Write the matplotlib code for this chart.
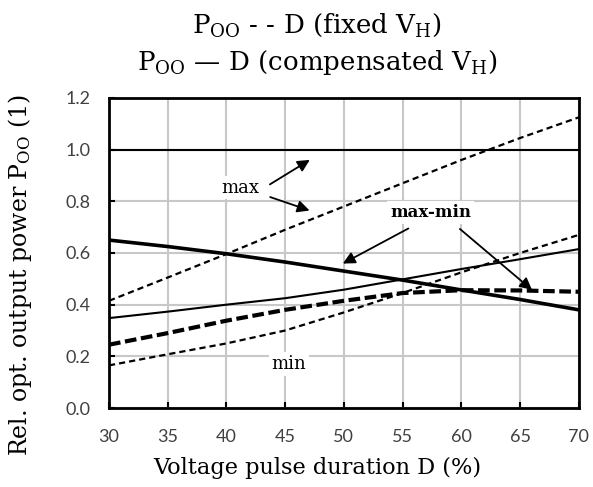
import matplotlib
matplotlib.use('Agg')
import matplotlib.pyplot as plt

plt.rcParams['mathtext.fontset'] = 'dejavuserif'

# Data
duration = [30, 35, 40, 45, 50, 55, 60, 65, 70]
fixed_max = [0.415, 0.505, 0.596, 0.69, 0.78, 0.87, 0.96, 1.045, 1.125]
fixed_min = [0.165, 0.208, 0.25, 0.30, 0.37, 0.445, 0.525, 0.60, 0.67]
fixed_maxmin = [0.245, 0.29, 0.338, 0.38, 0.415, 0.445, 0.456, 0.455, 0.45]
comp_max = [1.0, 1.0, 1.0, 1.0, 1.0, 1.0, 1.0, 1.0, 1.0]
comp_min = [0.348, 0.373, 0.40, 0.425, 0.458, 0.498, 0.538, 0.576, 0.615]
comp_maxmin = [0.65, 0.625, 0.597, 0.565, 0.53, 0.495, 0.457, 0.42, 0.38]

x_ticks = [30, 35, 40, 45, 50, 55, 60, 65, 70]
y_ticks = [0.0, 0.2, 0.4, 0.6, 0.8, 1.0, 1.2]

serif = 'DejaVu Serif'
sans = 'Lato'

fig = plt.figure(figsize=(5.93, 4.87), dpi=100)
ax = fig.add_axes([0.1838, 0.1622, 0.7922, 0.6366])

# lines
ax.plot(duration, comp_max, color='black', lw=1.5, zorder=3)
ax.plot(duration, comp_min, color='black', lw=1.5, zorder=3)
ax.plot(duration, comp_maxmin, color='black', lw=2.6, zorder=3)
ax.plot(duration, fixed_max, color='black', lw=1.6, dashes=(2.8, 1.8), zorder=3)
ax.plot(duration, fixed_min, color='black', lw=1.6, dashes=(2.8, 1.8), zorder=3)
ax.plot(duration, fixed_maxmin, color='black', lw=3.0, dashes=(2.8, 1.1), zorder=3)

ax.set_xlim(30, 70)
ax.set_ylim(0, 1.2)
ax.set_xticks(x_ticks)
ax.set_yticks(y_ticks)
ax.set_yticklabels(['%.1f' % v for v in y_ticks])
ax.grid(True, color='#c8c8c8', lw=1.5, zorder=0)
ax.set_axisbelow(True)
for s in ax.spines.values():
    s.set_linewidth(2)
ax.tick_params(direction='in', length=4, width=1.5, labelsize=13,
               labelcolor='#404040')
ax.tick_params(axis='x', pad=15)
ax.tick_params(axis='y', pad=13.5)
for lab in ax.get_xticklabels() + ax.get_yticklabels():
    lab.set_fontfamily(sans)

ax.set_xlabel('Voltage pulse duration D (%)', fontsize=16.2, family=serif)
ax.xaxis.label.set_va('center')
ax.xaxis.set_label_coords(0.443, -0.194)
ax.set_ylabel(r'Rel. opt. output power P$_\mathrm{OO}$ (1)', fontsize=17,
              family=serif)
ax.yaxis.label.set_va('center')
ax.yaxis.label.set_ha('center')
ax.yaxis.set_label_coords(-0.189, 0.43)

fig.text(0.535, 0.949, r'P$_\mathrm{OO}$ - - D (fixed V$_\mathrm{H}$)',
         ha='center', va='center', fontsize=18.8, family=serif)
fig.text(0.535, 0.871, r'P$_\mathrm{OO}$ — D (compensated V$_\mathrm{H}$)',
         ha='center', va='center', fontsize=18.8, family=serif)

# annotations
box = dict(facecolor='white', edgecolor='none', pad=2)
arrow = dict(arrowstyle='-|>', color='black', lw=1.3, mutation_scale=18)

ax.text(41.2, 0.853, 'max', ha='center', va='center', fontsize=13,
        family=serif, bbox=box, zorder=4)
ax.annotate('', xy=(47.3, 0.966), xytext=(43.5, 0.86), arrowprops=arrow, zorder=5)
ax.annotate('', xy=(47.3, 0.761), xytext=(43.5, 0.82), arrowprops=arrow, zorder=5)

ax.text(57.4, 0.756, 'max-min', ha='center', va='center', fontsize=12,
        family=serif, fontweight='bold', bbox=box, zorder=4)
ax.annotate('', xy=(49.7, 0.554), xytext=(55.7, 0.70), arrowprops=arrow, zorder=5)
ax.annotate('', xy=(66.2, 0.45), xytext=(59.7, 0.70), arrowprops=arrow, zorder=5)

ax.text(45.3, 0.17, 'min', ha='center', va='center', fontsize=13,
        family=serif, bbox=box, zorder=4)

fig.savefig('out.png', dpi=100)
